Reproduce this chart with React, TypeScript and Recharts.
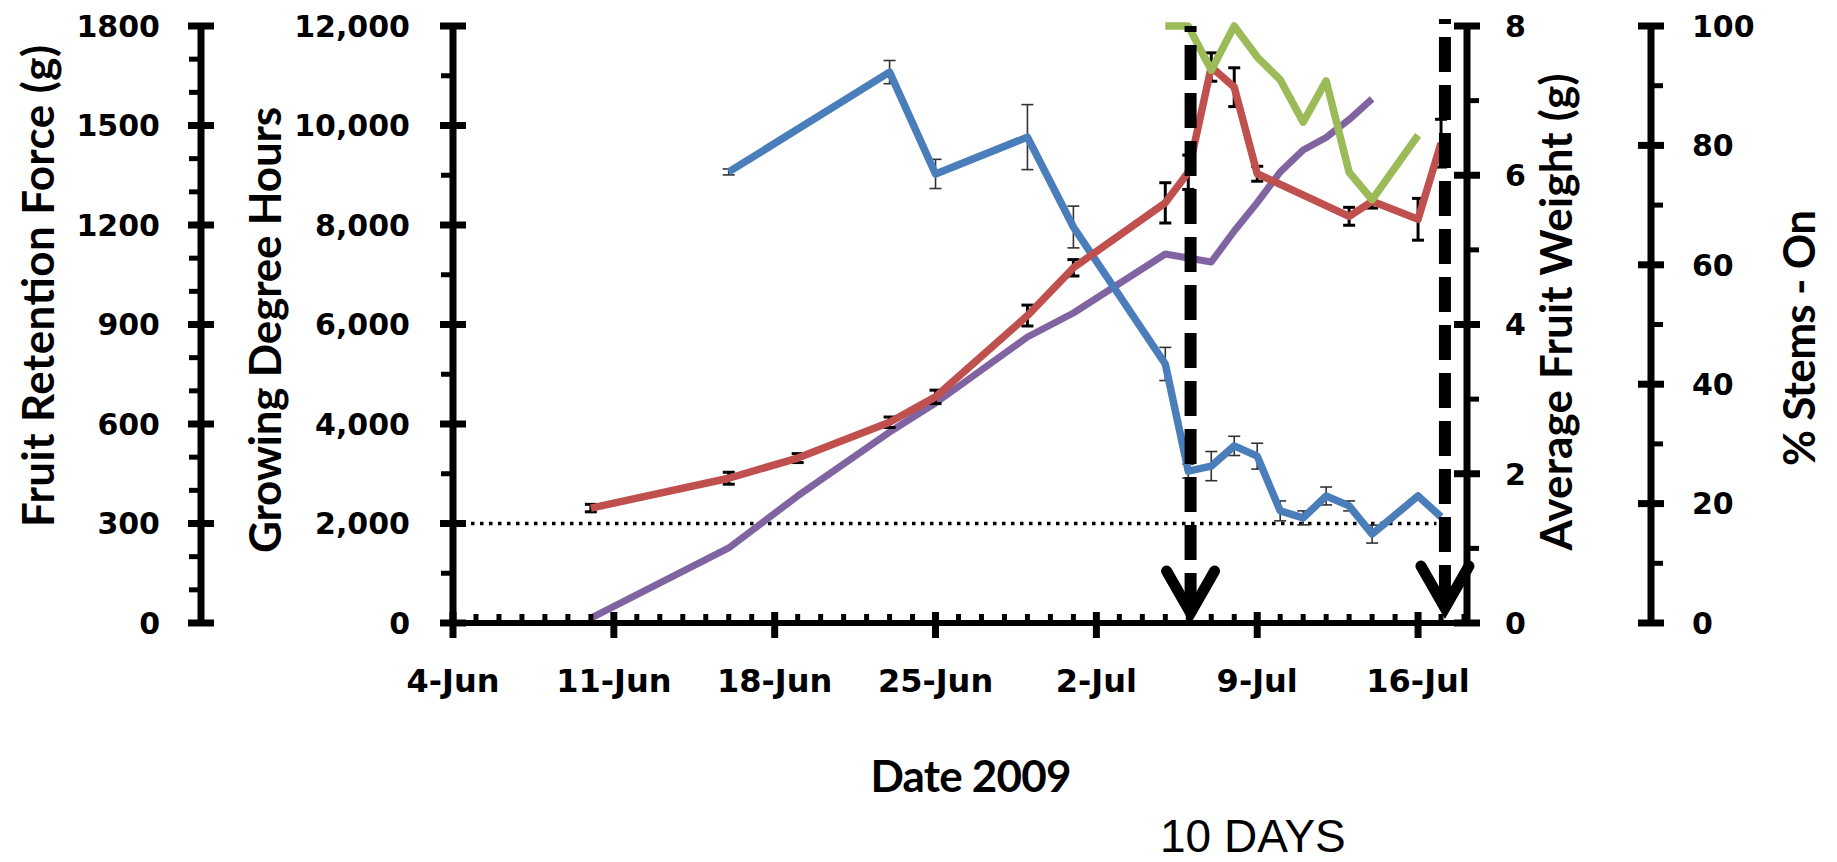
import React from 'react';
import { ComposedChart, Line, XAxis, YAxis, ErrorBar, ReferenceLine } from 'recharts';

// dates are month-day in 2009, converted to days after 4-Jun
const frfDates = ['06-16', '06-23', '06-25', '06-29', '07-01', '07-05', '07-06', '07-07', '07-08', '07-09', '07-10', '07-11', '07-12', '07-13', '07-14', '07-16', '07-17'];
const frfValues = [1360, 1661, 1354, 1465, 1194, 781, 458, 473, 534, 503, 338, 317, 383, 353, 268, 383, 320];
const frfErrors = [9, 35, 44, 98, 63, 50, 21, 44, 29, 39, 30, 21, 27, 15, 27, 0, 0];

const weightDates = ['06-10', '06-16', '06-19', '06-23', '06-25', '06-29', '07-01', '07-05', '07-06', '07-07', '07-08', '07-09', '07-13', '07-14', '07-16', '07-17'];
const weightValues = [1.54, 1.94, 2.21, 2.69, 3.03, 4.12, 4.76, 5.63, 6.04, 7.45, 7.18, 6.02, 5.45, 5.65, 5.41, 6.43];
const weightErrors = [0.05, 0.08, 0.06, 0.07, 0.09, 0.14, 0.11, 0.27, 0.23, 0.19, 0.26, 0.1, 0.12, 0.09, 0.28, 0.32];

const gdhDates = ['06-10', '06-16', '06-19', '06-23', '06-25', '06-29', '07-01', '07-05', '07-07', '07-08', '07-09', '07-10', '07-11', '07-12', '07-13', '07-14'];
const gdhValues = [100, 1508, 2553, 3839, 4422, 5749, 6231, 7417, 7256, 7880, 8450, 9065, 9508, 9759, 10120, 10533];

const stemDates = ['07-05', '07-06', '07-07', '07-08', '07-09', '07-10', '07-11', '07-12', '07-13', '07-14', '07-16'];
const stemValues = [100, 100, 92.6, 100, 94.8, 91.0, 83.9, 90.8, 75.5, 70.9, 81.7];

const dateLabels = ['4-Jun', '11-Jun', '18-Jun', '25-Jun', '2-Jul', '9-Jul', '16-Jul'];
const dayTicks = Array.from({ length: 45 }, (_, i) => i);
const frfTicks = [0, 100, 200, 300, 400, 500, 600, 700, 800, 900, 1000, 1100, 1200, 1300, 1400, 1500, 1600, 1700, 1800];
const gdhTicks = [0, 1000, 2000, 3000, 4000, 5000, 6000, 7000, 8000, 9000, 10000, 11000, 12000];
const weightTicks = [0, 1, 2, 3, 4, 5, 6, 7, 8];
const stemTicks = [0, 10, 20, 30, 40, 50, 60, 70, 80, 90, 100];
const arrowDays = [32.1, 43.17];

const START = Date.UTC(2009, 5, 4);
const toDay = (md: string) => {
  const [m, d] = md.split('-').map(Number);
  return (Date.UTC(2009, m - 1, d) - START) / 864e5;
};

const frfData = frfDates.map((d, i) => ({ day: toDay(d), v: frfValues[i], e: frfErrors[i] }));
const weightData = weightDates.map((d, i) => ({ day: toDay(d), v: weightValues[i], e: weightErrors[i] }));
const gdhData = gdhDates.map((d, i) => ({ day: toDay(d), v: gdhValues[i] }));
const stemData = stemDates.map((d, i) => ({ day: toDay(d), v: stemValues[i] }));

// axis ids: the "1" axis on each side sits next to the plot, the "2" axis outside it
const GDH = 'y1gdh';
const FRF = 'y2frf';
const WEIGHT = 'y1weight';
const STEM = 'y2stem';

const tickFont = { fontFamily: '"DejaVu Sans"', fontWeight: 700, fontSize: 30 };
const titleFont = { fontFamily: 'Lato', fontWeight: 700, fontSize: 44 };

const makeYTick = (side: 'left' | 'right', majorStep: number, gap: number, fmt: (v: number) => string) =>
  (props: any) => {
    const { x, y, payload } = props;
    const v = payload.value;
    const major = v % majorStep === 0;
    const dir = side === 'left' ? -1 : 1;
    return (
      <g>
        {major
          ? <line x1={x - 13} x2={x + 13} y1={y} y2={y} stroke="#000" strokeWidth={7} />
          : <line x1={x} x2={x + dir * 12} y1={y} y2={y} stroke="#000" strokeWidth={5} />}
        {major && (
          <text x={x + dir * gap} y={y} dy="0.36em" textAnchor={side === 'left' ? 'end' : 'start'} fill="#000" {...tickFont}>
            {fmt(v)}
          </text>
        )}
      </g>
    );
  };

const XTick = (props: any) => {
  const { x, y, payload } = props;
  const d = payload.value;
  const major = d % 7 === 0;
  return (
    <g>
      {major
        ? <line x1={x} x2={x} y1={y - 11} y2={y + 15} stroke="#000" strokeWidth={7} />
        : <line x1={x} x2={x} y1={y - 9} y2={y} stroke="#000" strokeWidth={5} />}
      {major && (
        <text x={x} y={y + 69} textAnchor="middle" fill="#000" {...tickFont} fontSize={32}>{dateLabels[d / 7]}</text>
      )}
    </g>
  );
};

const title = (text: string, x: number, y: number, len: number) => () => (
  <text x={x} y={y} transform={`rotate(-90 ${x} ${y})`} textAnchor="middle" textLength={len} fill="#000" {...titleFont}>{text}</text>
);

const xTitle = () => (
  <g>
    <text x={971} y={792} textAnchor="middle" textLength={201} fill="#000" {...titleFont}>Date 2009</text>
    <text x={1160} y={852} fill="#000" fontFamily='"Liberation Sans"' fontSize={46}>10 DAYS</text>
  </g>
);

const arrowShape = (offset: number, tipY: number, lift: number) => (props: any) => {
  const x = props.x1;
  const top = Math.min(props.y1, props.y2) - lift;
  return (
    <g>
      <line x1={x} x2={x} y1={top} y2={tipY} stroke="#000" strokeWidth={12} strokeDasharray="35 13" strokeDashoffset={offset} />
      <polyline points={`${x - 24},${tipY - 42} ${x},${tipY} ${x + 24},${tipY - 42}`} fill="none" stroke="#000" strokeWidth={11} strokeLinecap="round" />
    </g>
  );
};

export default function App() {
  return (
    <div style={{ position: 'absolute', left: 0, top: 0, width: 1837, height: 862, background: '#fff' }}>
      <ComposedChart width={1837} height={862} margin={{ top: 26, right: 0, bottom: 0, left: 0 }}>
        <XAxis
          xAxisId="x"
          dataKey="day"
          type="number"
          domain={[0, 44.13]}
          allowDataOverflow
          ticks={dayTicks}
          interval={0}
          height={239}
          tickSize={0}
          tickMargin={0}
          tick={<XTick />}
          axisLine={{ stroke: '#000', strokeWidth: 6 }}
          label={xTitle}
        />
        <YAxis
          yAxisId={GDH}
          orientation="left"
          width={252}
          domain={[0, 12000]}
          ticks={gdhTicks}
          interval={0}
          tickSize={0}
          tickMargin={0}
          tick={makeYTick('left', 2000, 43, (v) => v.toLocaleString('en-US'))}
          axisLine={{ stroke: '#000', strokeWidth: 7 }}
          label={title('Growing Degree Hours', 281, 330, 446)}
        />
        <YAxis
          yAxisId={FRF}
          orientation="left"
          width={201}
          domain={[0, 1800]}
          ticks={frfTicks}
          interval={0}
          tickSize={0}
          tickMargin={0}
          tick={makeYTick('left', 300, 41, (v) => String(v))}
          axisLine={{ stroke: '#000', strokeWidth: 7 }}
          label={title('Fruit Retention Force (g)', 54, 286, 482)}
        />
        <YAxis
          yAxisId={WEIGHT}
          orientation="right"
          width={184}
          domain={[0, 8]}
          ticks={weightTicks}
          interval={0}
          tickSize={0}
          tickMargin={0}
          tick={makeYTick('right', 2, 38, (v) => String(v))}
          axisLine={{ stroke: '#000', strokeWidth: 7 }}
          label={title('Average Fruit Weight (g)', 1572, 312, 477)}
        />
        <YAxis
          yAxisId={STEM}
          orientation="right"
          width={186}
          domain={[0, 100]}
          ticks={stemTicks}
          interval={0}
          tickSize={0}
          tickMargin={0}
          tick={makeYTick('right', 20, 41, (v) => String(v))}
          axisLine={{ stroke: '#000', strokeWidth: 7 }}
          label={title('% Stems - On', 1815, 338, 256)}
        />

        <ReferenceLine
          xAxisId="x"
          yAxisId={GDH}
          segment={[{ x: 0, y: 2000 }, { x: 42.8, y: 2000 }]}
          stroke="#000"
          strokeWidth={3.5}
          strokeDasharray="3.5 5.5"
        />

        <Line data={gdhData} dataKey="v" xAxisId="x" yAxisId={GDH} stroke="#8064a2" strokeWidth={7} dot={false} strokeLinejoin="round" isAnimationActive={false} />
        <Line data={frfData} dataKey="v" xAxisId="x" yAxisId={FRF} stroke="#4a7ebb" strokeWidth={7.5} dot={false} strokeLinejoin="round" isAnimationActive={false}>
          <ErrorBar dataKey="e" width={6} stroke="#333" strokeWidth={1.6} direction="y" isAnimationActive={false} />
        </Line>
        <Line data={weightData} dataKey="v" xAxisId="x" yAxisId={WEIGHT} stroke="#c0504d" strokeWidth={7.5} dot={false} strokeLinejoin="round" isAnimationActive={false}>
          <ErrorBar dataKey="e" width={6} stroke="#000" strokeWidth={3} direction="y" isAnimationActive={false} />
        </Line>
        <Line data={stemData} dataKey="v" xAxisId="x" yAxisId={STEM} stroke="#9bbb59" strokeWidth={7.5} dot={false} strokeLinejoin="round" isAnimationActive={false} />

        <ReferenceLine xAxisId="x" yAxisId={GDH} x={arrowDays[0]} ifOverflow="visible" shape={arrowShape(29, 613, 0)} />
        <ReferenceLine xAxisId="x" yAxisId={GDH} x={arrowDays[1]} ifOverflow="visible" shape={arrowShape(30, 608, 7)} />
      </ComposedChart>
    </div>
  );
}
